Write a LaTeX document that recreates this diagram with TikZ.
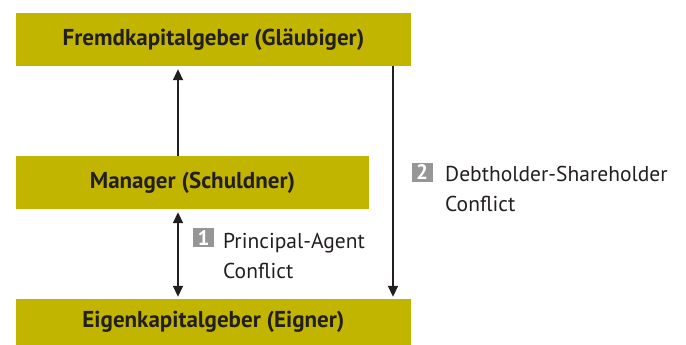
\documentclass[tikz,border=0pt]{standalone}
\usepackage{fontspec}
\setmainfont{PT Sans}
\usetikzlibrary{arrows.meta}
\definecolor{olive}{RGB}{193,181,0}
\definecolor{txt}{RGB}{35,31,32}
\definecolor{numgray}{RGB}{150,150,150}
\tikzset{
  x=1pt,y=1pt,
  partybox/.style={fill=olive,draw=none,inner sep=0pt,text=txt,font=\bfseries\fontsize{23}{26}\selectfont},
  conn/.style={line width=1.8pt,draw=txt,-{Triangle[width=10pt,length=11pt]}},
  numbox/.style={fill=numgray,text=white,inner sep=0pt,minimum width=21pt,minimum height=19pt,font=\bfseries\fontsize{21}{21}\selectfont},
  lbl/.style={inner sep=0pt,anchor=base west,align=left,text=txt,font=\fontsize{21.5}{30}\selectfont}
}
\begin{document}
\begin{tikzpicture}
\useasboundingbox (0,0) rectangle (686,345);
\node[partybox,minimum width=395pt,minimum height=53pt] (top) at (213.5,305.5) {Fremdkapitalgeber (Gläubiger)};
\node[partybox,minimum width=353pt,minimum height=53pt] (mid) at (192.5,162.5) {Manager (Schuldner)};
\node[partybox,minimum width=395pt,minimum height=46pt] (bot) at (213.5,23) {Eigenkapitalgeber (Eigner)};
\coordinate (a1) at (178,189);
\draw[conn] (mid.north -| a1) -- ([yshift=-3pt]top.south -| a1);
\draw[conn,{Triangle[width=10pt,length=11pt]}-{Triangle[width=10pt,length=11pt]}] ([yshift=-3pt]mid.south -| a1) -- ([yshift=2pt]bot.north -| a1);
\coordinate (a2) at (393,0);
\draw[conn] (top.south -| a2) -- ([yshift=2pt]bot.north -| a2);
\node[numbox] (n1) at (203.5,107) {1};
\node[lbl] (l1) at (223,66) {Principal-Agent\\Conflict};
\node[numbox] (n2) at (422,172.5) {2};
\node[lbl] (l2) at (445,133) {Debtholder-Shareholder\\Conflict};
\end{tikzpicture}
\end{document}
